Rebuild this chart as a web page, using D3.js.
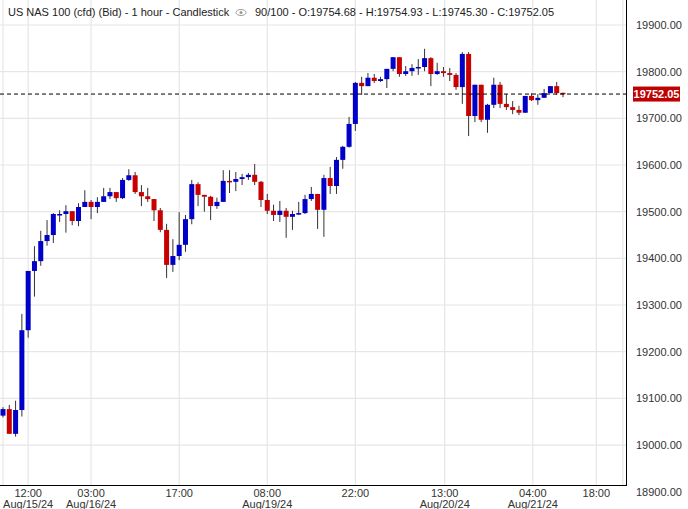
<!DOCTYPE html>
<html>
<head>
<meta charset="utf-8">
<script src="https://cdn.jsdelivr.net/npm/d3@7"></script>
<style>
  body { margin: 0; background: #fff; }
  text { font-family: "Liberation Sans", Arial, sans-serif; }
</style>
</head>
<body>
<div id="chart"></div>
<script>
// Candle data (1 hour candles)
var opens  = [19063,19077,19024,19075,19246,19373,19394,19437,19450,19494,19495,19501,19480,19510,19521,19510,19521,19533,19542,19529,19568,19578,19542,19533,19527,19503,19461,19386,19405,19429,19484,19559,19536,19532,19512,19521,19566,19564,19570,19574,19579,19564,19525,19502,19493,19502,19489,19495,19497,19527,19538,19504,19572,19555,19611,19639,19688,19776,19769,19787,19780,19784,19806,19831,19795,19801,19808,19810,19829,19795,19801,19797,19793,19767,19838,19705,19772,19697,19729,19772,19731,19724,19718,19712,19748,19739,19744,19754,19769,19754.68];
var highs  = [19081,19086,19095,19281,19373,19426,19459,19482,19497,19503,19514,19501,19518,19546,19525,19531,19551,19551,19542,19572,19591,19585,19557,19551,19527,19508,19474,19441,19499,19493,19568,19563,19536,19534,19530,19589,19589,19585,19581,19583,19602,19566,19538,19515,19523,19508,19502,19521,19536,19553,19538,19579,19596,19617,19641,19703,19778,19789,19797,19795,19789,19806,19831,19831,19812,19816,19827,19849,19831,19819,19810,19808,19797,19842,19842,19772,19772,19731,19787,19778,19752,19737,19727,19748,19754,19752,19763,19769,19778,19754.93];
var lows   = [19059,19024,19018,19061,19230,19318,19384,19427,19433,19478,19455,19471,19469,19510,19484,19497,19521,19527,19521,19527,19566,19538,19512,19521,19480,19456,19358,19371,19396,19414,19473,19512,19500,19482,19506,19521,19540,19544,19557,19568,19557,19510,19495,19480,19478,19444,19461,19493,19495,19523,19463,19446,19538,19538,19592,19637,19673,19750,19769,19776,19778,19765,19801,19789,19791,19791,19793,19801,19769,19793,19789,19780,19761,19731,19662,19692,19692,19669,19722,19722,19718,19709,19707,19712,19737,19729,19744,19754,19750,19745.30];
var closes = [19077,19024,19075,19246,19373,19394,19437,19450,19495,19495,19501,19480,19510,19521,19510,19521,19533,19542,19529,19568,19578,19542,19533,19527,19503,19461,19386,19405,19429,19484,19559,19536,19532,19512,19521,19566,19564,19570,19574,19579,19564,19525,19502,19493,19502,19489,19495,19497,19527,19538,19504,19572,19555,19611,19639,19688,19776,19769,19787,19780,19784,19806,19831,19795,19801,19808,19810,19829,19795,19801,19797,19793,19767,19838,19705,19772,19697,19729,19772,19731,19724,19718,19712,19748,19739,19744,19754,19769,19754,19752.05];

// time ticks: position in candle index units
var tickIdx   = [4, 14, 28, 42, 56, 70.2, 84.2, 94.3];
var tickTimes = ["12:00","03:00","17:00","08:00","22:00","13:00","04:00","18:00"];
var tickDates = ["Aug/15/24","Aug/16/24","","Aug/19/24","","Aug/20/24","Aug/21/24",""];
var priceTicks = [18900,19000,19100,19200,19300,19400,19500,19600,19700,19800,19900];
var lastPrice = 19752.05;

var svgWidth = 688, svgHeight = 509;
var plotRight = 626, plotBottom = 485;

var svg = d3.select("#chart").append("svg")
    .attr("width", svgWidth)
    .attr("height", svgHeight);

var x = d3.scaleLinear().domain([0, 89]).range([3, 563]);
var y = d3.scaleLinear().domain([18900, 19900]).range([491.7, 25]);

// grid
svg.append("g").selectAll("line").data(priceTicks.filter(d => d > 18900)).enter()
    .append("line")
    .attr("x1", 0).attr("x2", plotRight)
    .attr("y1", d => y(d)).attr("y2", d => y(d))
    .attr("stroke", "#e6e6e6").attr("stroke-width", 1.2);
svg.append("g").selectAll("line").data(tickIdx.concat([0, 98.5])).enter()
    .append("line")
    .attr("x1", d => x(d)).attr("x2", d => x(d))
    .attr("y1", 0).attr("y2", plotBottom)
    .attr("stroke", "#e6e6e6").attr("stroke-width", 1.2);

// axes lines
svg.append("line").attr("x1", plotRight + 0.5).attr("x2", plotRight + 0.5)
    .attr("y1", 0).attr("y2", plotBottom).attr("stroke", "#000");
svg.append("line").attr("x1", 0).attr("x2", plotRight + 1)
    .attr("y1", plotBottom + 0.5).attr("y2", plotBottom + 0.5).attr("stroke", "#000");

// price labels
svg.append("g").selectAll("text").data(priceTicks).enter()
    .append("text")
    .attr("x", 636).attr("y", d => y(d) + 4)
    .attr("font-size", 11).attr("fill", "#333")
    .text(d => d3.format(".2f")(d));

// time labels
var tl = svg.append("g").selectAll("g").data(tickIdx).enter().append("g");
tl.append("text")
    .attr("x", d => x(d)).attr("y", 497)
    .attr("text-anchor", "middle").attr("font-size", 11).attr("fill", "#333")
    .text((d, i) => tickTimes[i]);
tl.append("text")
    .attr("x", d => x(d)).attr("y", 508)
    .attr("text-anchor", "middle").attr("font-size", 11).attr("fill", "#333")
    .text((d, i) => tickDates[i]);

// candles
var candles = svg.append("g").selectAll("g").data(opens).enter().append("g");
candles.append("line")
    .attr("x1", (d, i) => x(i)).attr("x2", (d, i) => x(i))
    .attr("y1", (d, i) => y(highs[i])).attr("y2", (d, i) => y(lows[i]))
    .attr("stroke", "#333").attr("stroke-width", 1);
candles.append("rect")
    .attr("x", (d, i) => x(i) - 2.5)
    .attr("width", 5)
    .attr("y", (d, i) => y(Math.max(d, closes[i])))
    .attr("height", (d, i) => Math.max(1.5, Math.abs(y(d) - y(closes[i]))))
    .attr("fill", (d, i) => closes[i] >= d ? "#0000c8" : "#c80000");

// last price line and box
svg.append("line")
    .attr("x1", 0).attr("x2", plotRight)
    .attr("y1", y(lastPrice)).attr("y2", y(lastPrice))
    .attr("stroke", "#000").attr("stroke-dasharray", "4,3");
svg.append("rect")
    .attr("x", 633).attr("y", y(lastPrice) - 7.5)
    .attr("width", 47).attr("height", 15)
    .attr("fill", "#c00000");
svg.append("text")
    .attr("x", 656.5).attr("y", y(lastPrice) + 4)
    .attr("text-anchor", "middle").attr("font-size", 11)
    .attr("font-weight", "bold").attr("fill", "#fff")
    .text(d3.format(".2f")(lastPrice));

// title
svg.append("text").attr("x", 8).attr("y", 16).attr("font-size", 11).attr("fill", "#222")
    .text("US NAS 100 (cfd) (Bid) - 1 hour - Candlestick");
svg.append("ellipse").attr("cx", 241).attr("cy", 12.5).attr("rx", 5).attr("ry", 3)
    .attr("fill", "none").attr("stroke", "#999");
svg.append("circle").attr("cx", 241).attr("cy", 12.5).attr("r", 1.5).attr("fill", "#999");
svg.append("text").attr("x", 255).attr("y", 16).attr("font-size", 11).attr("fill", "#222")
    .text("90/100 - O:19754.68 - H:19754.93 - L:19745.30 - C:19752.05");
</script>
</body>
</html>
